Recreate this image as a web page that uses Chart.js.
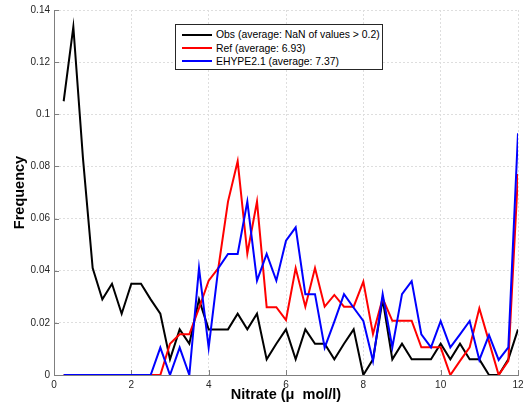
<!DOCTYPE html>
<html>
<head>
<meta charset="utf-8">
<script src="https://cdn.jsdelivr.net/npm/chart.js@4.4.0/dist/chart.umd.min.js"></script>
<style>
  body { margin: 0; background: #fff; }
  #wrap { position: relative; width: 529px; height: 419px; }
  #legend {
    position: absolute; left: 175px; top: 24px; width: 208px; height: 46px;
    box-sizing: border-box; padding-top: 3px;
    border: 1px solid #262626; background: #fff;
    font: 10.4px 'Liberation Sans', Arial, sans-serif; color: #000;
  }
  .row { display: flex; align-items: center; height: 13.4px; white-space: nowrap; }
  .swatch { flex: 0 0 30px; height: 2px; margin: 0 4px 0 6px; }
</style>
</head>
<body>
<div id="wrap">
  <canvas id="chart" width="529" height="419"></canvas>
  <div id="legend"></div>
</div>
<script>
// bin centres (umol/l) and frequencies
const binCenters = [0.25, 0.5, 0.75, 1, 1.25, 1.5, 1.75, 2, 2.25, 2.5, 2.75, 3,
  3.25, 3.5, 3.75, 4, 4.25, 4.5, 4.75, 5, 5.25, 5.5, 5.75, 6,
  6.25, 6.5, 6.75, 7, 7.25, 7.5, 7.75, 8, 8.25, 8.5, 8.75, 9,
  9.25, 9.5, 9.75, 10, 10.25, 10.5, 10.75, 11, 11.25, 11.5, 11.75, 12];

const obsFreq = [0.105, 0.1335, 0.083, 0.041, 0.029, 0.035, 0.0235, 0.035, 0.035, 0.029, 0.0235, 0.006,
  0.0175, 0.012, 0.029, 0.0175, 0.0175, 0.0175, 0.0235, 0.0175, 0.0235, 0.006, 0.012, 0.0175,
  0.006, 0.0175, 0.012, 0.012, 0.006, 0.012, 0.0175, 0, 0.006, 0.029, 0.006, 0.012,
  0.006, 0.006, 0.006, 0.012, 0.006, 0.012, 0.006, 0.006, 0, 0, 0.006, 0.0175];

const refFreq = [0, 0, 0, 0, 0, 0, 0, 0, 0, 0, 0, 0.012,
  0.0156, 0.0156, 0.0256, 0.0362, 0.041, 0.0665, 0.082, 0.0466, 0.0665, 0.026, 0.026, 0.0211,
  0.041, 0.0262, 0.041, 0.0262, 0.0307, 0.0262, 0.0262, 0.0358, 0.0157, 0.0294, 0.0208, 0.0208,
  0.0208, 0.0106, 0.0106, 0.0106, 0, 0.0054, 0.0106, 0.0256, 0.0128, 0, 0.0054, 0.0771];

const ehypeFreq = [0, 0, 0, 0, 0, 0, 0, 0, 0, 0, 0.0105, 0,
  0.0105, 0, 0.041, 0.0105, 0.041, 0.0464, 0.0464, 0.0665, 0.0362, 0.0464, 0.0362, 0.0515,
  0.0566, 0.031, 0.031, 0.0105, 0.0205, 0.031, 0.0258, 0.0207, 0.0054, 0.031, 0.0106, 0.031,
  0.036, 0.0156, 0.0106, 0.0207, 0.0106, 0.0156, 0.0207, 0.0058, 0.0153, 0.0058, 0.0106, 0.0927];

const seriesNames = ['Obs (average: NaN of values > 0.2)', 'Ref (average: 6.93)', 'EHYPE2.1 (average: 7.37)'];
const seriesColors = ['#000000', '#ff0000', '#0000ff'];

const xTickLabels = ['0', '2', '4', '6', '8', '10', '12'];
const yTickLabels = ['0', '0.02', '0.04', '0.06', '0.08', '0.1', '0.12', '0.14'];

const toPoints = arr => arr.map((v, i) => ({ x: binCenters[i], y: v }));

// matlab style ticks pointing into the plot
const inwardTicks = {
    id: 'inwardTicks',
    beforeDatasetsDraw(chart) {
        const { ctx, chartArea, scales: { x, y } } = chart;
        ctx.save();
        ctx.strokeStyle = '#7f7f7f';
        ctx.lineWidth = 1;
        ctx.beginPath();
        x.ticks.forEach(t => {
            const px = Math.round(x.getPixelForValue(t.value)) + 0.5;
            ctx.moveTo(px, chartArea.bottom);
            ctx.lineTo(px, chartArea.bottom - 5);
        });
        y.ticks.forEach(t => {
            const py = Math.round(y.getPixelForValue(t.value)) + 0.5;
            ctx.moveTo(chartArea.left, py);
            ctx.lineTo(chartArea.left + 5, py);
        });
        ctx.stroke();
        ctx.restore();
    }
};

const datasets = [obsFreq, refFreq, ehypeFreq].map((arr, i) => ({
    label: seriesNames[i],
    data: toPoints(arr),
    borderColor: seriesColors[i],
    backgroundColor: seriesColors[i],
    borderWidth: 2,
    pointRadius: 0,
    tension: 0,
    order: 3 - i
}));

const fontFamily = "'Liberation Sans', Arial, sans-serif";

new Chart(document.getElementById('chart'), {
    type: 'line',
    data: { datasets: datasets },
    options: {
        responsive: false,
        animation: false,
        layout: { padding: { left: 7, right: 11, top: 10, bottom: 11 } },
        plugins: {
            legend: { display: false },
            tooltip: { enabled: false }
        },
        scales: {
            x: {
                type: 'linear',
                min: 0,
                max: 12,
                afterFit: scale => { scale.height = 33; },
                ticks: {
                    stepSize: 2,
                    padding: 4,
                    color: '#262626',
                    font: { family: fontFamily, size: 10 },
                    callback: (value, index) => xTickLabels[index]
                },
                grid: { color: '#dedede', drawTicks: false },
                border: { display: true, color: '#7f7f7f', width: 1, dash: [2, 2] },
                title: {
                    display: true,
                    text: 'Nitrate (\u03bc  mol/l)',
                    color: '#000',
                    font: { family: fontFamily, size: 14.5, weight: 'bold' }
                }
            },
            y: {
                min: 0,
                max: 0.14,
                afterFit: scale => { scale.width = 47; },
                ticks: {
                    stepSize: 0.02,
                    padding: 4,
                    color: '#262626',
                    font: { family: fontFamily, size: 10 },
                    callback: (value, index) => yTickLabels[index]
                },
                grid: { color: '#dedede', drawTicks: false },
                border: { display: true, color: '#7f7f7f', width: 1, dash: [2, 2] },
                title: {
                    display: true,
                    text: 'Frequency',
                    color: '#000',
                    font: { family: fontFamily, size: 14.5, weight: 'bold' }
                }
            }
        }
    },
    plugins: [inwardTicks]
});

// legend box drawn in html, top-centre of the plot
const legendBox = document.getElementById('legend');
seriesNames.forEach((name, i) => {
    const row = document.createElement('div');
    row.className = 'row';
    const sw = document.createElement('span');
    sw.className = 'swatch';
    sw.style.background = seriesColors[i];
    const txt = document.createElement('span');
    txt.textContent = name;
    row.appendChild(sw);
    row.appendChild(txt);
    legendBox.appendChild(row);
});
</script>
</body>
</html>
